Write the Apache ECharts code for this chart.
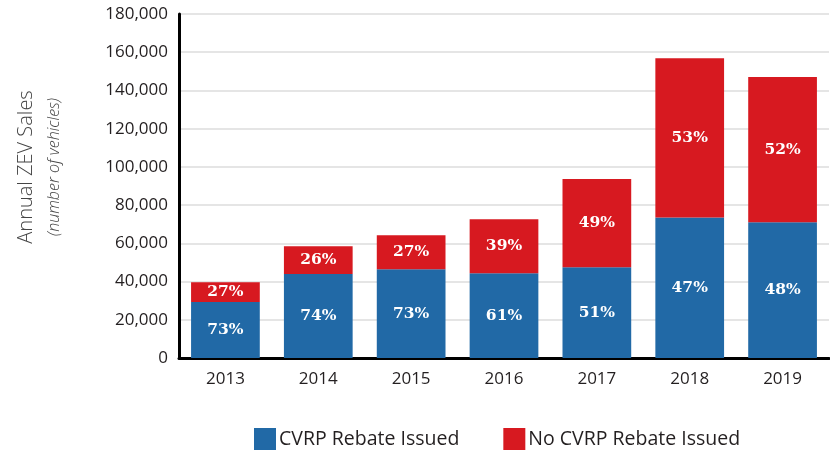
<!DOCTYPE html>
<html><head><meta charset="utf-8">
<script src="https://cdn.jsdelivr.net/npm/echarts@6/dist/echarts.min.js"></script>
<style>html,body{margin:0;padding:0;background:#fff}#c{width:830px;height:454px}</style>
</head><body><div id="c"></div>
<script>
const years = ['2013','2014','2015','2016','2017','2018','2019'];
const rebate = [29300, 44000, 46500, 44300, 47500, 73500, 71000];
const noRebate = [10300, 14500, 17700, 28300, 46100, 83400, 76000];
const rebatePct = ['73%','74%','73%','61%','51%','47%','48%'];
const noRebatePct = ['27%','26%','27%','39%','49%','53%','52%'];
const yTicks = {min:0, max:180000, interval:20000};

const chart = echarts.init(document.getElementById('c'), null, {renderer:'canvas'});
const lbl = (arr) => ({
  show:true, position:'inside', color:'#fff', fontFamily:'DejaVu Serif', fontWeight:'bold', fontSize:15.5,
  formatter: p => arr[p.dataIndex]
});
chart.setOption({
  animation:false,
  grid:{left:179, right:1, top:14, bottom:96, containLabel:false},
  legend:{
    top:428, left:254, padding:0, itemWidth:22, itemHeight:22, itemGap:44, icon:'rect',
    textStyle:{fontFamily:'Open Sans', fontSize:19.5, color:'#231f20', padding:[0,0,0,-2]},
    data:['CVRP Rebate Issued','No CVRP Rebate Issued']
  },
  graphic:[
    {type:'text', x:26, y:167, rotation:Math.PI/2, style:{text:'Annual ZEV Sales', font:'300 20px "Open Sans"', fill:'#444', align:'center', verticalAlign:'middle'}},
    {type:'text', x:54, y:167, rotation:Math.PI/2, style:{text:'(number of vehicles)', font:'italic 300 16px "Open Sans"', fill:'#444', align:'center', verticalAlign:'middle'}}
  ],
  xAxis:{
    type:'category', data:years,
    axisLine:{lineStyle:{color:'#000', width:3}}, axisTick:{show:false},
    axisLabel:{color:'#231f20', fontFamily:'Open Sans', fontSize:17, margin:13}
  },
  yAxis:{
    type:'value', min:yTicks.min, max:yTicks.max, interval:yTicks.interval,
    axisLine:{show:true, lineStyle:{color:'#000', width:3}}, axisTick:{show:false},
    splitLine:{lineStyle:{color:'#e5e5e5', width:2}},
    axisLabel:{color:'#231f20', fontFamily:'Open Sans', fontSize:17, margin:11,
      formatter: v => v.toLocaleString('en-US')}
  },
  series:[
    {name:'CVRP Rebate Issued', type:'bar', stack:'t', data:rebate, barWidth:'74%',
      itemStyle:{color:'#2169a6'}, label:lbl(rebatePct)},
    {name:'No CVRP Rebate Issued', type:'bar', stack:'t', data:noRebate, barWidth:'74%',
      itemStyle:{color:'#d71920'}, label:lbl(noRebatePct)}
  ]
});
</script></body></html>
